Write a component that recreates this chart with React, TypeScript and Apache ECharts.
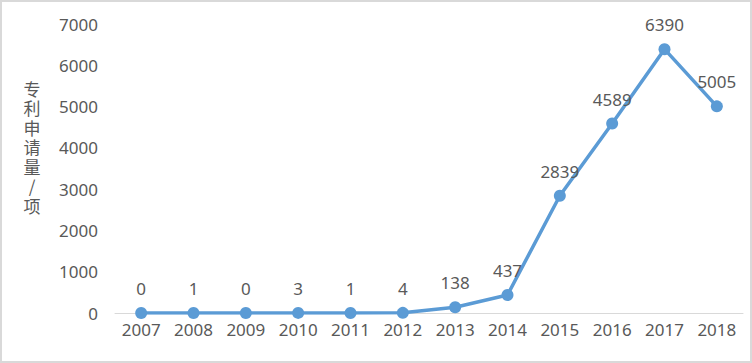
import React, { useEffect, useRef } from "react";
import * as echarts from "echarts";

const years = ["2007", "2008", "2009", "2010", "2011", "2012", "2013", "2014", "2015", "2016", "2017", "2018"];
const patents = [0, 1, 0, 3, 1, 4, 138, 437, 2839, 4589, 6390, 5005];
const yAxisTitleChars = ["专", "利", "申", "请", "量", "/", "项"];

export default function App() {
  const ref = useRef<HTMLDivElement>(null);
  useEffect(() => {
    document.body.style.margin = "0";
    const chart = echarts.init(ref.current!, null, { renderer: "svg" });
    const textStyle = { color: "#595959", fontFamily: "Noto Sans", fontSize: 17 };
    chart.setOption({
      animation: false,
      backgroundColor: "#fff",
      grid: { left: 115, right: 9, top: 24, bottom: 50 },
      xAxis: {
        type: "category",
        data: years,
        boundaryGap: true,
        axisLine: { show: true, lineStyle: { color: "#D9D9D9", width: 1 } },
        axisTick: { show: false },
        axisLabel: { ...textStyle, margin: 8 },
        splitLine: { show: false },
      },
      yAxis: {
        type: "value",
        min: 0,
        max: 7000,
        interval: 1000,
        axisLine: { show: false },
        axisTick: { show: false },
        splitLine: { show: false },
        axisLabel: { ...textStyle, margin: 17, formatter: (v: number) => String(v) },
      },
      graphic: [
        {
          type: "rect",
          shape: { x: 1, y: 1, width: 750, height: 361 },
          style: { fill: "none", stroke: "#D9D9D9", lineWidth: 2 },
          silent: true,
        },
        ...yAxisTitleChars.map((ch, i) => ({
          type: "text",
          x: 32,
          y: 88 + i * 19.5,
          style: {
            text: ch,
            fill: "#595959",
            font: '17px "Noto Sans CJK SC"',
            lineHeight: 17,
            align: "center",
            verticalAlign: "middle",
          },
        })),
      ],
      series: [
        {
          type: "line",
          data: patents,
          symbol: "circle",
          symbolSize: 12,
          itemStyle: { color: "#5B9BD5" },
          lineStyle: { color: "#5B9BD5", width: 3.5 },
          label: { show: true, position: "top", distance: 10, ...textStyle },
        },
      ],
    });
    return () => chart.dispose();
  }, []);
  return <div ref={ref} style={{ width: 752, height: 363 }} />;
}
